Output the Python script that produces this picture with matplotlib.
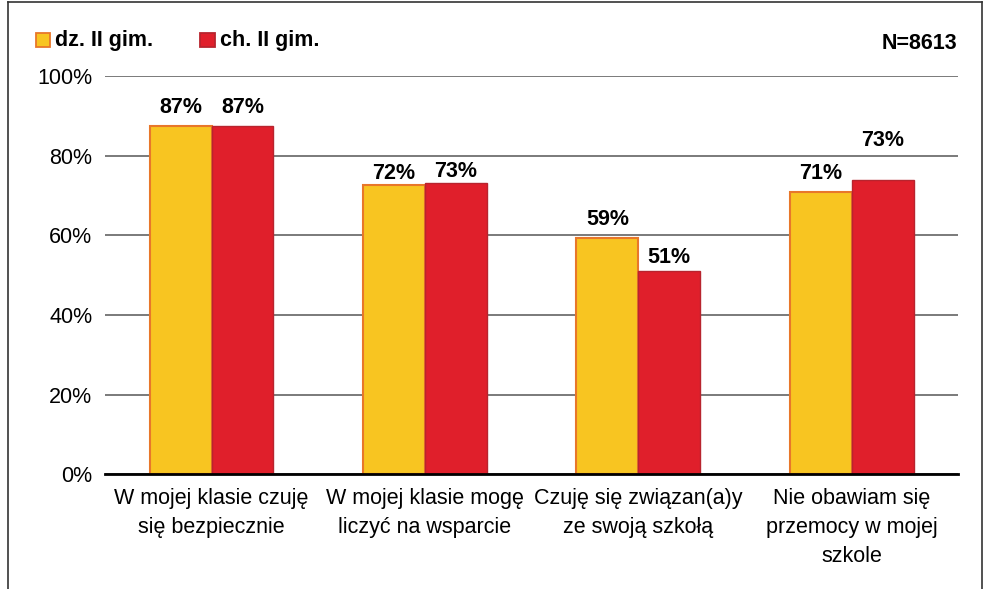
import matplotlib
matplotlib.use("Agg")
import matplotlib.pyplot as plt
import numpy as np
from matplotlib.patches import Rectangle
from matplotlib.lines import Line2D

# dane
categories = [
    "W mojej klasie czuję\nsię bezpiecznie",
    "W mojej klasie mogę\nliczyć na wsparcie",
    "Czuję się związan(a)y\nze swoją szkołą",
    "Nie obawiam się\nprzemocy w mojej\nszkole",
]
girls = [87.4, 72.6, 59.3, 70.9]
boys = [87.4, 73.1, 51.0, 73.9]
girls_labels = ["87%", "72%", "59%", "71%"]
boys_labels = ["87%", "73%", "51%", "73%"]
series_names = ["dz. II gim.", "ch. II gim."]
yticks = [0, 20, 40, 60, 80, 100]

# odstęp etykiet nad słupkami (w punktach)
girls_pad = [6, 1, 6, 6]
boys_pad = [6, 1, 2, 21]

plt.rcParams["font.family"] = ["Liberation Sans", "DejaVu Sans"]

yellow, yellow_edge = "#F8C521", "#E8772A"
red, red_edge = "#E01F2B", "#B8242E"
fs = 15.5

fig = plt.figure(figsize=(9.9, 5.89), dpi=100)
ax = fig.add_axes([0.106, 0.195, 0.862, 0.676])

x = np.arange(len(categories))
w = 0.29
b1 = ax.bar(x - w / 2, girls, w, color=yellow, edgecolor=yellow_edge, linewidth=1.5, zorder=3)
b2 = ax.bar(x + w / 2, boys, w, color=red, edgecolor=red_edge, linewidth=1.0, zorder=3)

for bars, labels, pads in [(b1, girls_labels, girls_pad), (b2, boys_labels, boys_pad)]:
    for bar, lab, pad in zip(bars, labels, pads):
        ax.annotate(lab, (bar.get_x() + bar.get_width() / 2, bar.get_height()),
                    xytext=(0, pad), textcoords="offset points",
                    ha="center", va="bottom", fontsize=fs, fontweight="bold")

ax.set_xlim(-0.5, 3.5)
ax.set_ylim(0, 100)
ax.set_yticks(yticks)
ax.set_yticklabels([f"{t}%" for t in yticks], fontsize=fs)
ax.set_xticks(x)
ax.set_xticklabels(categories, fontsize=fs, linespacing=1.5, va="top")
ax.tick_params(axis="y", length=0, pad=9)
ax.tick_params(axis="x", length=0, pad=10)
ax.yaxis.grid(True, color="#707070", linewidth=1.3, zorder=0)
ax.set_axisbelow(True)
for s in ["top", "right", "left"]:
    ax.spines[s].set_visible(False)
ax.spines["bottom"].set_linewidth(2)
ax.spines["bottom"].set_zorder(4)

# legenda
for i, (name, fc, ec) in enumerate(zip(series_names, [yellow, red], [yellow_edge, red_edge])):
    x0 = 0.036 + i * 0.166
    fig.add_artist(Rectangle((x0, 0.920), 0.015, 0.024, transform=fig.transFigure,
                             facecolor=fc, edgecolor=ec, linewidth=1.3))
    fig.text(x0 + 0.020, 0.932, name, fontsize=fs, fontweight="bold", va="center")

fig.text(0.967, 0.926, "N=8613", fontsize=fs, fontweight="bold", ha="right", va="center")

# ramka
frame = dict(color="#333333", linewidth=1.2, transform=fig.transFigure)
fig.add_artist(Line2D([0.008, 0.008], [0, 0.997], **frame))
fig.add_artist(Line2D([0.008, 0.992], [0.997, 0.997], **frame))
fig.add_artist(Line2D([0.992, 0.992], [0, 0.997], **frame))

fig.savefig("out.png", dpi=100)
